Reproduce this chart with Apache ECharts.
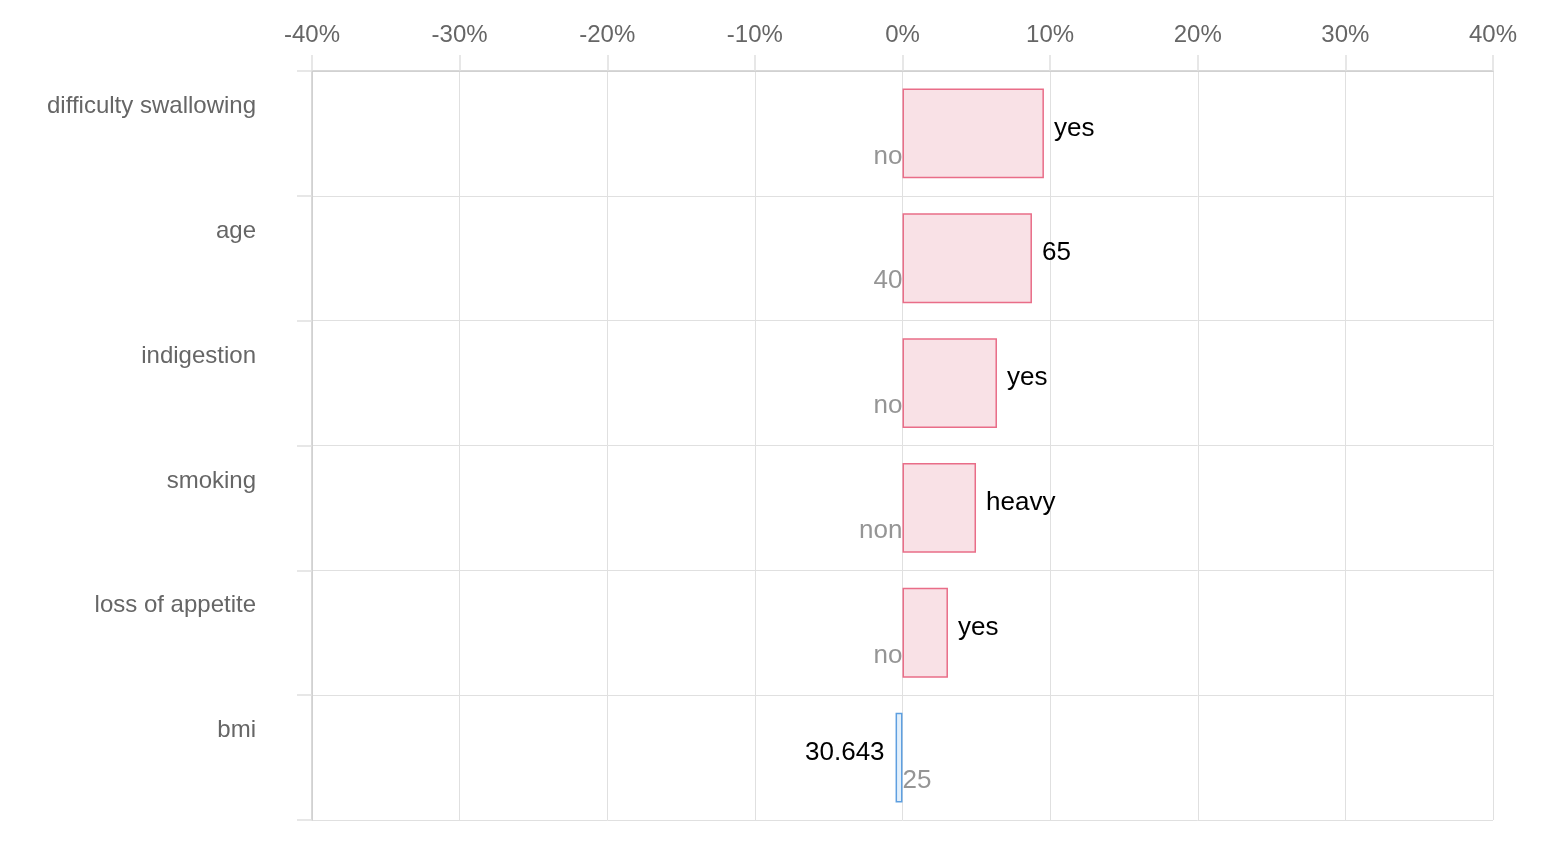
<!DOCTYPE html>
<html>
<head>
<meta charset="utf-8">
<script src="https://cdn.jsdelivr.net/npm/echarts@6/dist/echarts.min.js"></script>
<style>html,body{margin:0;padding:0;background:#fff}#c{width:1552px;height:864px}</style>
</head>
<body>
<div id="c"></div>
<script>
const categories = ['difficulty swallowing', 'age', 'indigestion', 'smoking', 'loss of appetite', 'bmi'];
const values = [9.58, 8.77, 6.4, 4.98, 3.08, -0.47];
const valueLabels = ['yes', '65', 'yes', 'heavy', 'yes', '30.643'];
const baseLabels = ['no', '40', 'no', 'non', 'no', '25'];
const xTicks = [-40, -30, -20, -10, 0, 10, 20, 30, 40];

const FONT = '"Liberation Sans", Arial, Helvetica, sans-serif';
const chart = echarts.init(document.getElementById('c'), null, {renderer: 'canvas'});

const barData = values.map((v, i) => {
  const pos = v >= 0;
  return {
    value: v,
    itemStyle: {
      color: pos ? '#f9e1e6' : '#e3f0fb',
      borderColor: pos ? '#e96d88' : '#5e9fe0',
      borderWidth: 1.5
    },
    label: {
      show: true,
      position: pos ? 'right' : 'left',
      distance: pos ? 10 : 11,
      offset: [0, -5],
      formatter: valueLabels[i]
    }
  };
});

const baseData = values.map((v, i) => ({
  value: [0, i],
  label: {
    show: true,
    position: v >= 0 ? 'left' : 'right',
    distance: 0,
    offset: [0, 23],
    formatter: baseLabels[i]
  }
}));

chart.setOption({
  animation: false,
  grid: {left: 312, right: 59, top: 71, bottom: 44, containLabel: false},
  xAxis: {
    type: 'value',
    position: 'top',
    min: xTicks[0],
    max: xTicks[xTicks.length - 1],
    interval: 10,
    axisLine: {show: true, lineStyle: {color: '#cccccc', width: 1.5}},
    axisTick: {show: true, length: 16, lineStyle: {color: '#e0e0e0', width: 1.5}},
    splitLine: {show: true, lineStyle: {color: '#e0e0e0', width: 1}},
    axisLabel: {
      margin: 24,
      color: '#666666',
      fontSize: 24,
      fontFamily: FONT,
      formatter: '{value}%'
    }
  },
  yAxis: {
    type: 'category',
    inverse: true,
    data: categories,
    axisLine: {show: true, onZero: false, lineStyle: {color: '#cccccc', width: 1.5}},
    axisTick: {show: true, length: 15, lineStyle: {color: '#e0e0e0', width: 1.5}},
    splitLine: {show: true, lineStyle: {color: '#e0e0e0', width: 1}},
    axisLabel: {
      margin: 56,
      color: '#666666',
      fontSize: 24,
      fontFamily: FONT,
      lineHeight: 54,
      formatter: v => v + '\n '
    }
  },
  series: [
    {
      type: 'bar',
      data: barData,
      barWidth: '72%',
      label: {color: '#000000', fontSize: 26, fontFamily: FONT},
      z: 3
    },
    {
      type: 'scatter',
      data: baseData,
      symbolSize: 0,
      silent: true,
      label: {color: '#7a7a7a', fontSize: 26, fontFamily: FONT},
      z: 4
    }
  ]
});
</script>
</body>
</html>
